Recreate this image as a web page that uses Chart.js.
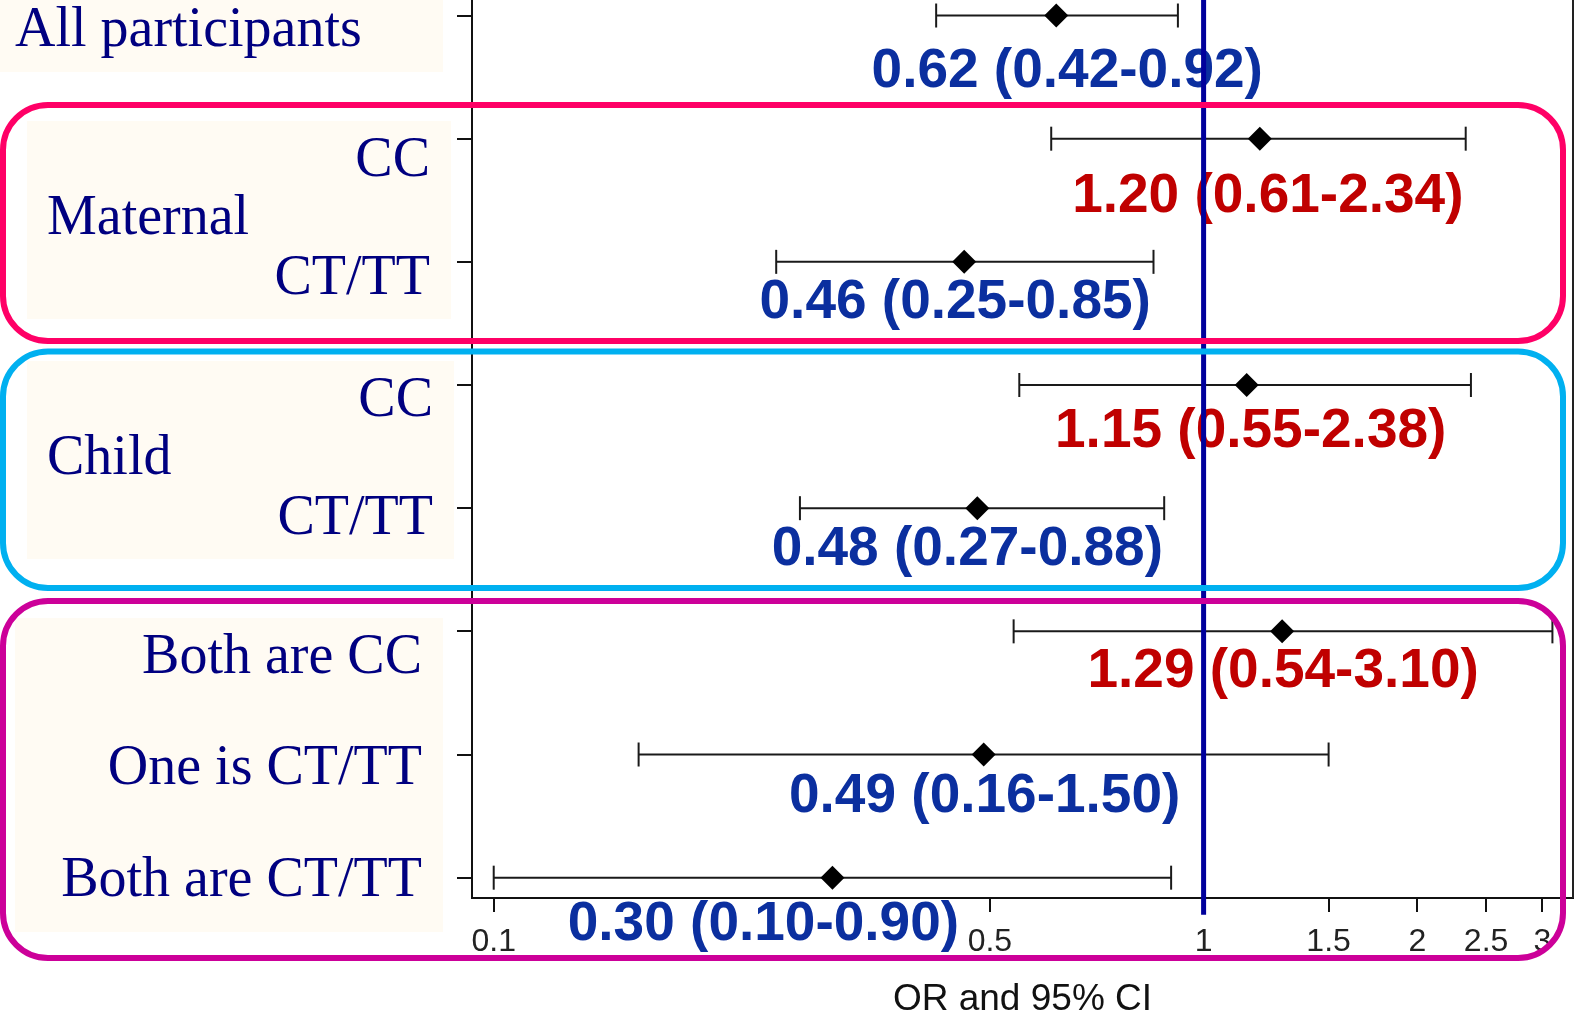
<!DOCTYPE html>
<html>
<head>
<meta charset="utf-8">
<title>OR and 95% CI</title>
<script src="https://cdn.jsdelivr.net/npm/chart.js@4.4.1/dist/chart.umd.min.js"></script>
<style>
  html, body { margin: 0; padding: 0; background: #fff; overflow: hidden; }
  #wrap { width: 1577px; height: 1013px; position: relative; }
</style>
</head>
<body>
<div id="wrap"><canvas id="forest"></canvas></div>
<script>
// rows, top to bottom
const rowLabels = ['All participants', 'Maternal CC', 'Maternal CT/TT', 'Child CC', 'Child CT/TT',
                   'Both are CC', 'One is CT/TT', 'Both are CT/TT'];
const oddsRatio = [0.62, 1.20, 0.46, 1.15, 0.48, 1.29, 0.49, 0.30];
const ciLow     = [0.42, 0.61, 0.25, 0.55, 0.27, 0.54, 0.16, 0.10];
const ciHigh    = [0.92, 2.34, 0.85, 2.38, 0.88, 3.10, 1.50, 0.90];
const xTicks = [0.1, 0.5, 1, 1.5, 2, 2.5, 3];
const refValue = 1;

// where each OR label sits relative to its point (px)
const labelShift = [[11, 56], [8, 58], [-9, 41], [4, 47], [-10, 42], [1, 40], [1, 42], [-69, 47]];

const sans = '"Liberation Sans", Arial, sans-serif';
const serif = '"Liberation Serif", "Times New Roman", serif';

// left hand panel: cream boxes and their text
const panelBoxes = [[0, 0, 443, 72], [27, 121, 451, 319], [27, 361, 454, 559], [15, 618, 443, 932]];
const panelText = [
  ['All participants', 15, 31, 'left'],
  ['CC', 430, 161, 'right'],
  ['Maternal', 47, 219, 'left'],
  ['CT/TT', 430, 279, 'right'],
  ['CC', 433, 401, 'right'],
  ['Child', 47, 459, 'left'],
  ['CT/TT', 433, 519, 'right'],
  ['Both are CC', 422, 658, 'right'],
  ['One is CT/TT', 422, 769, 'right'],
  ['Both are CT/TT', 422, 881, 'right']
];
// coloured rounded frames round the groups
const frames = [
  ['#ff0066', 3, 105, 1563, 341],
  ['#00b0f0', 3, 351.5, 1563, 588],
  ['#cc0099', 3, 601, 1563, 958]
];

function roundRect(ctx, x0, y0, x1, y1, r) {
  ctx.beginPath();
  ctx.moveTo(x0 + r, y0);
  ctx.lineTo(x1 - r, y0);
  ctx.arcTo(x1, y0, x1, y0 + r, r);
  ctx.lineTo(x1, y1 - r);
  ctx.arcTo(x1, y1, x1 - r, y1, r);
  ctx.lineTo(x0 + r, y1);
  ctx.arcTo(x0, y1, x0, y1 - r, r);
  ctx.lineTo(x0, y0 + r);
  ctx.arcTo(x0, y0, x0 + r, y0, r);
  ctx.closePath();
}

const labelPlugin = {
  id: 'orLabels',
  beforeDatasetsDraw(chart) {
    const { ctx, scales: { x, y } } = chart;
    ctx.save();
    ctx.font = 'bold 55px ' + sans;
    ctx.textAlign = 'center';
    ctx.textBaseline = 'middle';
    oddsRatio.forEach((v, i) => {
      ctx.fillStyle = v > refValue ? '#c00000' : '#0b2f9f';
      const txt = v.toFixed(2) + ' (' + ciLow[i].toFixed(2) + '-' + ciHigh[i].toFixed(2) + ')';
      ctx.fillText(txt, x.getPixelForValue(v) + labelShift[i][0], y.getPixelForValue(i) + labelShift[i][1]);
    });
    ctx.restore();
  }
};

const decorPlugin = {
  id: 'decor',
  beforeDraw(chart) {
    const ctx = chart.ctx;
    ctx.save();
    ctx.fillStyle = '#fff';
    ctx.fillRect(0, 0, chart.width, chart.height);
    ctx.restore();
  },
  afterDraw(chart) {
    const { ctx, chartArea } = chart;
    ctx.save();
    // right border of the plot box
    ctx.strokeStyle = '#222';
    ctx.lineWidth = 2;
    ctx.beginPath();
    ctx.moveTo(chartArea.right, 0);
    ctx.lineTo(chartArea.right, chartArea.bottom);
    ctx.stroke();

    ctx.fillStyle = '#fffbf3';
    panelBoxes.forEach(b => ctx.fillRect(b[0], b[1], b[2] - b[0], b[3] - b[1]));

    ctx.fillStyle = '#000080';
    ctx.font = '56px ' + serif;
    ctx.textBaseline = 'middle';
    panelText.forEach(t => {
      ctx.textAlign = t[3];
      ctx.fillText(t[0], t[1], t[2]);
    });

    ctx.lineWidth = 6;
    frames.forEach(f => {
      ctx.strokeStyle = f[0];
      roundRect(ctx, f[1], f[2], f[3], f[4], 45);
      ctx.stroke();
    });
    ctx.restore();
  }
};

const refLine = {
  data: [{ x: refValue, y: -0.3 }, { x: refValue, y: 7.3 }],
  showLine: true,
  borderColor: '#00009c',
  borderWidth: 5,
  pointRadius: 0,
  clip: false,
  order: 0
};

const diamonds = {
  data: oddsRatio.map((v, i) => ({ x: v, y: i })),
  showLine: false,
  pointStyle: 'rectRot',
  pointRadius: 12,
  backgroundColor: '#000',
  borderColor: '#000',
  borderWidth: 0,
  order: 1
};

const ciBars = ciLow.map((lo, i) => ({
  data: [{ x: lo, y: i }, { x: ciHigh[i], y: i }],
  showLine: true,
  borderColor: '#1a1a1a',
  borderWidth: 2,
  pointStyle: 'line',
  rotation: 90,
  pointRadius: 12,
  pointBorderWidth: 2,
  pointBorderColor: '#1a1a1a',
  clip: false,
  order: 2
}));

new Chart(document.getElementById('forest'), {
  type: 'scatter',
  data: { datasets: [refLine, diamonds, ...ciBars] },
  options: {
    responsive: true,
    maintainAspectRatio: false,
    animation: false,
    events: [],
    layout: { autoPadding: false, padding: { left: 0, right: 4, top: 0, bottom: 0 } },
    plugins: { legend: { display: false }, tooltip: { enabled: false } },
    scales: {
      x: {
        type: 'logarithmic',
        min: 0.0932,
        max: 3.314,
        afterBuildTicks: s => { s.ticks = xTicks.map(v => ({ value: v })); },
        afterFit: s => { s.height = 115; s.paddingLeft = 0; s.paddingRight = 0; },
        ticks: {
          autoSkip: false,
          maxRotation: 0,
          padding: 11,
          color: '#222',
          font: { family: sans, size: 32 },
          callback: v => String(v)
        },
        grid: { drawOnChartArea: false, tickLength: 14, color: '#111', lineWidth: 2 },
        border: { display: true, color: '#111', width: 2 },
        title: {
          display: true,
          text: 'OR and 95% CI',
          color: '#111',
          font: { family: sans, size: 37 },
          padding: { top: 0, bottom: -9 }
        }
      },
      y: {
        type: 'linear',
        reverse: true,
        min: -0.126,
        max: 7.165,
        afterBuildTicks: s => { s.ticks = rowLabels.map((_, i) => ({ value: i })); },
        afterFit: s => { s.width = 472; s.paddingTop = 0; s.paddingBottom = 0; },
        ticks: { display: false },
        grid: { drawOnChartArea: false, drawTicks: true, tickLength: 15, color: '#111', lineWidth: 2 },
        border: { display: true, color: '#111', width: 2 }
      }
    }
  },
  plugins: [labelPlugin, decorPlugin]
});
</script>
</body>
</html>
